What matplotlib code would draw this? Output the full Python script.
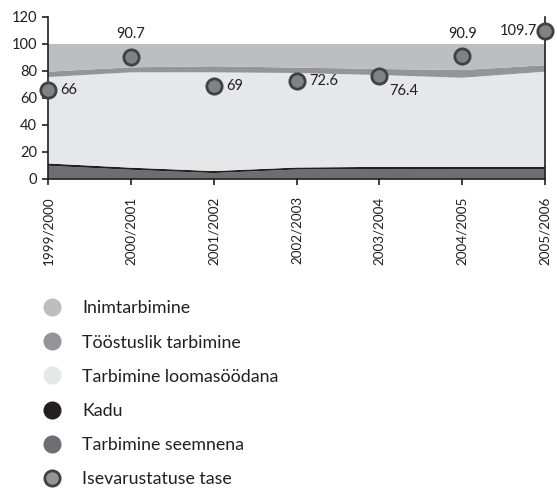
import matplotlib
matplotlib.use("Agg")
import matplotlib.pyplot as plt
from matplotlib.lines import Line2D

plt.rcParams.update({
    "font.family": ["Lato", "DejaVu Sans"],
    "font.size": 10,
    "axes.linewidth": 1.2,
})

# data (percent of use, stacked from the bottom)
years = ["1999/2000", "2000/2001", "2001/2002", "2002/2003",
         "2003/2004", "2004/2005", "2005/2006"]
seemnena = [9.8, 6.8, 4.4, 7.0, 7.4, 7.3, 7.3]
kadu = [1.7, 1.6, 1.5, 1.5, 1.6, 1.6, 1.6]
loomasoodana = [64.0, 70.6, 73.1, 70.0, 68.0, 66.1, 70.6]
toostuslik = [4.0, 3.7, 4.5, 4.0, 4.5, 5.7, 4.8]
inimtarbimine = [20.5, 17.3, 16.5, 17.5, 18.5, 19.3, 15.7]
isevarustatus = [66, 90.7, 69, 72.6, 76.4, 90.9, 109.7]
yticks = [0, 20, 40, 60, 80, 100, 120]

c_inim = "#bcbec0"
c_toos = "#939598"
c_loom = "#e6e7e8"
c_kadu = "#231f20"
c_seem = "#6d6e71"
c_mark = "#808285"
c_edge = "#414042"

fig = plt.figure(figsize=(5.57, 4.88), dpi=100)
ax = fig.add_axes([0.0862, 0.6332, 0.8923, 0.332])

x = list(range(len(years)))
ax.stackplot(x, seemnena, kadu, loomasoodana, toostuslik, inimtarbimine,
             colors=[c_seem, c_kadu, c_loom, c_toos, c_inim], linewidth=0)

ax.plot(x, isevarustatus, linestyle="none", marker="o", markersize=11,
        markerfacecolor=c_mark, markeredgecolor=c_edge, markeredgewidth=2,
        clip_on=False, zorder=5)

# value labels: offsets in points
offsets = [(9, 0, "left", "center"), (0, 11, "center", "bottom"),
           (9, 0, "left", "center"), (9, 0, "left", "center"),
           (7, -6, "left", "top"), (0, 11, "center", "bottom"),
           (-6, 0, "right", "center")]
for xi, v, (dx, dy, ha, va) in zip(x, isevarustatus, offsets):
    ax.annotate(f"{v:g}", (xi, v), xytext=(dx, dy), textcoords="offset points",
                ha=ha, va=va, fontsize=10.5, color="#231f20", zorder=6)

ax.set_xlim(0, 6)
ax.set_ylim(0, 120)
ax.set_yticks(yticks)
ax.set_xticks(x)
ax.set_xticklabels(years, rotation=90, va="top", ha="center")
ax.tick_params(axis="both", direction="out", length=4, width=1.2,
               colors="#231f20", labelcolor="#231f20", labelsize=10.5, pad=3)
ax.tick_params(axis="x", labelsize=9.7, pad=8.5)
ax.tick_params(axis="y", pad=4)
ax.spines["top"].set_visible(False)
for s in ["left", "right", "bottom"]:
    ax.spines[s].set_color("#231f20")

handles = [
    Line2D([], [], linestyle="none", marker="o", markersize=12,
           markerfacecolor=c_inim, markeredgecolor=c_inim),
    Line2D([], [], linestyle="none", marker="o", markersize=12,
           markerfacecolor=c_toos, markeredgecolor=c_toos),
    Line2D([], [], linestyle="none", marker="o", markersize=12,
           markerfacecolor=c_loom, markeredgecolor=c_loom),
    Line2D([], [], linestyle="none", marker="o", markersize=12,
           markerfacecolor=c_kadu, markeredgecolor=c_kadu),
    Line2D([], [], linestyle="none", marker="o", markersize=12,
           markerfacecolor=c_seem, markeredgecolor=c_seem),
    Line2D([], [], linestyle="none", marker="o", markersize=11,
           markerfacecolor=c_toos, markeredgecolor=c_edge, markeredgewidth=2),
]
labels = ["Inimtarbimine", "Tööstuslik tarbimine", "Tarbimine loomasöödana",
          "Kadu", "Tarbimine seemnena", "Isevarustatuse tase"]
fig.legend(handles, labels, loc="upper left", bbox_to_anchor=(0.058, 0.399),
           frameon=False, fontsize=12.8, labelspacing=1.02, handletextpad=1.0,
           handlelength=1.4, borderaxespad=0, labelcolor="#231f20")

fig.savefig("out.png", dpi=100)
